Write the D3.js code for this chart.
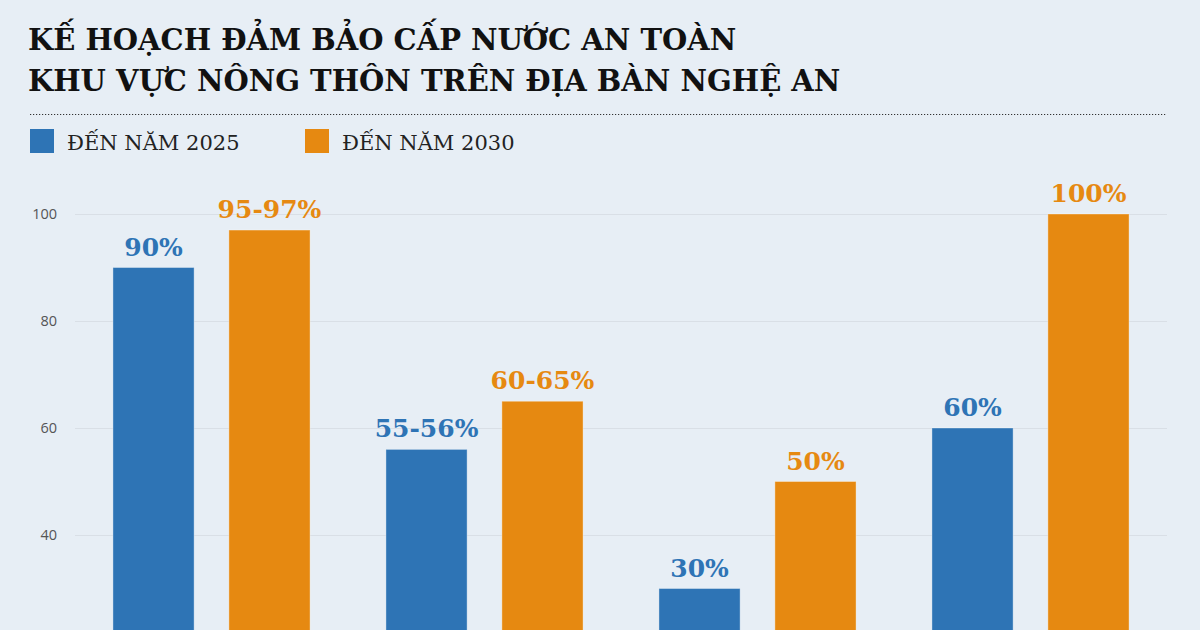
<!DOCTYPE html>
<html>
<head>
<meta charset="utf-8">
<script src="https://cdn.jsdelivr.net/npm/d3@7"></script>
<style>
  html, body { margin: 0; padding: 0; background: #e7eef5; overflow: hidden; }
  svg { display: block; }
</style>
</head>
<body>
<div class="chart"></div>
<script>
// data
const groups = ["g1", "g2", "g3", "g4"];
const seriesKeys = ["ĐẾN NĂM 2025", "ĐẾN NĂM 2030"];
const values2025 = [90, 56, 30, 60];
const values2030 = [97, 65, 50, 100];
const labels2025 = ["90%", "55-56%", "30%", "60%"];
const labels2030 = ["95-97%", "60-65%", "50%", "100%"];
const yTicks = [40, 60, 80, 100];   // lower ticks fall below the visible area
const titleLines = ["KẾ HOẠCH ĐẢM BẢO CẤP NƯỚC AN TOÀN", "KHU VỰC NÔNG THÔN TRÊN ĐỊA BÀN NGHỆ AN"];

const W = 1200, H = 630;
const colors = ["#2e74b5", "#e68911"];

const svg = d3.select(".chart").append("svg")
    .attr("width", W)
    .attr("height", H);

svg.append("rect").attr("width", W).attr("height", H).attr("fill", "#e7eef5");

// title
svg.selectAll(".title")
    .data(titleLines)
    .join("text")
    .attr("class", "title")
    .attr("x", 28)
    .attr("y", (d, i) => 50 + i * 41)
    .attr("font-family", "'DejaVu Serif', serif")
    .attr("font-weight", "bold")
    .attr("font-size", 29)
    .attr("fill", "#111")
    .text(d => d);

// dotted rule
svg.append("line")
    .attr("x1", 30).attr("x2", 1166)
    .attr("y1", 114.5).attr("y2", 114.5)
    .attr("stroke", "#333")
    .attr("stroke-width", 1.2)
    .attr("stroke-dasharray", "1.2,1.8");

// legend
const legendX = [30, 305];
const legend = svg.selectAll(".legend")
    .data(seriesKeys)
    .join("g")
    .attr("class", "legend")
    .attr("transform", (d, i) => `translate(${legendX[i]}, 129)`);

legend.append("rect")
    .attr("width", 24).attr("height", 24)
    .attr("fill", (d, i) => colors[i]);

legend.append("text")
    .attr("x", 37).attr("y", 20.5)
    .attr("font-family", "'DejaVu Serif', serif")
    .attr("font-size", 21)
    .attr("fill", "#222")
    .text(d => d);

// scales
const x0 = d3.scaleBand().domain(groups).range([75, 1167])
    .paddingInner(0.278).paddingOuter(0.139);
const x1 = d3.scaleBand().domain(seriesKeys).range([0, x0.bandwidth()])
    .paddingInner(0.3);
const y = d3.scaleLinear().domain([0, 100]).range([749, 214]);

// grid + y axis
const yAxis = d3.axisLeft(y).tickValues(yTicks).tickSize(0).tickPadding(0);
const yAxisG = svg.append("g")
    .attr("class", "axis y-axis")
    .attr("transform", "translate(57,0)")
    .call(yAxis);
yAxisG.select(".domain").remove();
yAxisG.selectAll("text")
    .attr("font-family", "'Open Sans', sans-serif")
    .attr("font-size", 14.5)
    .attr("fill", "#555");

svg.append("g").selectAll("line")
    .data(yTicks)
    .join("line")
    .attr("x1", 75).attr("x2", 1167)
    .attr("y1", d => y(d) + 0.5).attr("y2", d => y(d) + 0.5)
    .attr("stroke", "#d9dfe6")
    .attr("stroke-width", 1);

// bars
const rows = groups.map((g, i) => ({
    group: g,
    items: [
        {key: seriesKeys[0], value: values2025[i], label: labels2025[i], c: 0},
        {key: seriesKeys[1], value: values2030[i], label: labels2030[i], c: 1}
    ]
}));

const gG = svg.selectAll(".grp")
    .data(rows)
    .join("g")
    .attr("class", "grp")
    .attr("transform", d => `translate(${x0(d.group)},0)`);

gG.selectAll("rect")
    .data(d => d.items)
    .join("rect")
    .attr("x", d => x1(d.key))
    .attr("y", d => y(d.value))
    .attr("width", x1.bandwidth())
    .attr("height", d => y(0) - y(d.value))
    .attr("fill", d => colors[d.c])
    .attr("stroke", "rgba(255,255,255,0.35)")
    .attr("stroke-width", 1);

gG.selectAll("text")
    .data(d => d.items)
    .join("text")
    .attr("x", d => x1(d.key) + x1.bandwidth() / 2)
    .attr("y", d => y(d.value) - 12)
    .attr("text-anchor", "middle")
    .attr("font-family", "'DejaVu Serif', serif")
    .attr("font-weight", "bold")
    .attr("font-size", 25)
    .attr("fill", d => colors[d.c])
    .text(d => d.label);
</script>
</body>
</html>
